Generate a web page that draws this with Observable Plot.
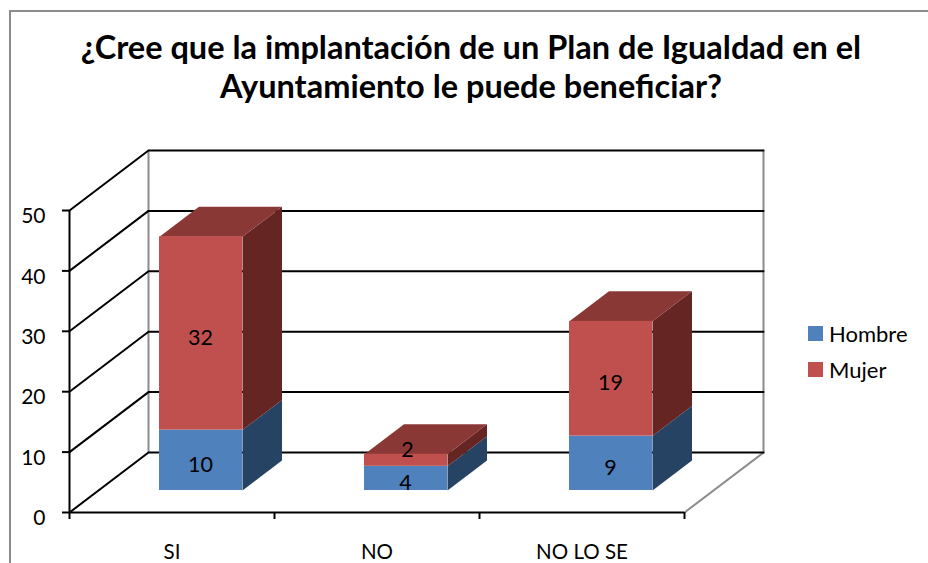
<!DOCTYPE html>
<html lang="es">
<head>
<meta charset="utf-8">
<script src="https://cdn.jsdelivr.net/npm/d3@7"></script>
<script src="https://cdn.jsdelivr.net/npm/@observablehq/plot@0.6"></script>
<style>
  html, body { margin: 0; padding: 0; background: #fff; overflow: hidden; }
  #wrap { position: relative; width: 928px; height: 563px; font-family: Lato, sans-serif; color: #000; }
  #frame { position: absolute; left: 9px; top: 10px; width: 935px; height: 575px; border: 2px solid #8c8c8c; box-sizing: border-box; }
  #title { position: absolute; left: 13px; width: 916px; top: 28px; text-align: center; font-weight: 700; font-size: 32.5px; line-height: 38.5px; }
  #legend { position: absolute; left: 808px; top: 315px; font-size: 22px; }
  .key { display: flex; align-items: center; height: 36px; margin-top: 0; }
  .key i { display: block; width: 15px; height: 15px; margin-right: 6px; }
  svg { position: absolute; left: 0; top: 0; display: block; background: transparent; overflow: visible; }
</style>
</head>
<body>
<div id="wrap">
  <div id="frame"></div>
  <div id="title">¿Cree que la implantación de un Plan de Igualdad en el<br>Ayuntamiento le puede beneficiar?</div>
  <div id="legend"></div>
</div>
<script>
const categories = ["SI", "NO", "NO LO SE"];
const hombre = [10, 4, 9];
const mujer = [32, 2, 19];
const yTicks = [0, 10, 20, 30, 40, 50];
const seriesNames = ["Hombre", "Mujer"];
const seriesColors = ["#4f81bd", "#c0504d"];

// Oblique projection of the chart's depth axis into the x and y scales
const depthX = 79 / 205, depthY = 60 / 6.04;
const px = (x, d) => x + d * depthX;
const py = (y, d) => y + d * depthY;
const barHalf = 41.5 / 205, dFront = 0.367, dBack = 0.867;

// Bar faces, built from the values
const fronts = [], polys = [];
function face(id, kind, pts) {
  for (const [x, y, d] of pts) polys.push({id, kind, x: px(x, d), y: py(y, d)});
}
categories.forEach((c, i) => {
  const cx = i + 0.5, l = cx - barHalf, r = cx + barHalf;
  const h = hombre[i], t = h + mujer[i];
  face(c + "-sh", "Hombre lado", [[r, 0, dFront], [r, 0, dBack], [r, h, dBack], [r, h, dFront]]);
  face(c + "-sm", "Mujer lado", [[r, h, dFront], [r, h, dBack], [r, t, dBack], [r, t, dFront]]);
  face(c + "-tm", "Mujer tapa", [[l, t, dFront], [l, t, dBack], [r, t, dBack], [r, t, dFront]]);
  fronts.push({x1: px(l, dFront), x2: px(r, dFront), y1: py(0, dFront), y2: py(h, dFront), s: "Hombre", v: h, c});
  fronts.push({x1: px(l, dFront), x2: px(r, dFront), y1: py(h, dFront), y2: py(t, dFront), s: "Mujer", v: mujer[i], c});
});

// Walls and floor
const wallBlack = yTicks.flatMap(v => [
  {g: v, x: px(0, 0), y: py(v, 0)},
  {g: v, x: px(0, 1), y: py(v, 1)},
  {g: v, x: px(3, 1), y: py(v, 1)}
]);
const wallGray = [
  {g: "left", x: px(0, 1), y: py(0, 1)}, {g: "left", x: px(0, 1), y: py(50, 1)},
  {g: "right", x: px(3, 1), y: py(0, 1)}, {g: "right", x: px(3, 1), y: py(50, 1)},
  {g: "floor", x: px(3, 0), y: py(0, 0)}, {g: "floor", x: px(3, 1), y: py(0, 1)}
];

const labelStd = fronts.filter(f => f.v > 2);
const labelTop = fronts.filter(f => f.v <= 2);

const chart = Plot.plot({
  width: 928,
  height: 563,
  marginLeft: 69,
  marginRight: 244,
  marginTop: 210,
  marginBottom: 51,
  style: {fontFamily: "Lato, sans-serif", color: "#000", background: "transparent"},
  x: {domain: [0, 3]},
  y: {domain: [0, 50]},
  color: {
    domain: ["Hombre", "Mujer", "Hombre lado", "Mujer lado", "Mujer tapa"],
    range: [...seriesColors, "#264364", "#652523", "#8a3836"]
  },
  marks: [
    Plot.line(wallGray, {x: "x", y: "y", z: "g", stroke: "#8c8c8c", strokeWidth: 2}),
    Plot.line(wallBlack, {x: "x", y: "y", z: "g", stroke: "#000", strokeWidth: 2}),
    Plot.ruleX([0], {y1: 0, y2: 50, stroke: "#000", strokeWidth: 2}),
    Plot.ruleY([0], {x1: 0, x2: 3, stroke: "#000", strokeWidth: 2}),
    Plot.axisY({ticks: yTicks, tickSize: 7, text: null, label: null, strokeWidth: 2, stroke: "#000"}),
    Plot.axisX({ticks: [0, 1, 2, 3], tickSize: 7, text: null, label: null, strokeWidth: 2, stroke: "#000"}),
    Plot.axisY({ticks: yTicks, tickSize: 0, tickPadding: 24, label: null, fontSize: 21, dy: 6, fill: "#000"}),
    Plot.axisX({ticks: [0.5, 1.5, 2.5], tickSize: 0, tickPadding: 32, label: null, fontSize: 20.5, fill: "#000",
      tickFormat: t => categories[Math.floor(t)]}),
    Plot.line(polys, {x: "x", y: "y", z: "id", fill: "kind", stroke: null}),
    Plot.rect(fronts, {x1: "x1", x2: "x2", y1: "y1", y2: "y2", fill: "s"}),
    Plot.text(labelStd, {x: d => (d.x1 + d.x2) / 2, y: d => (d.y1 + d.y2) / 2, text: "v", dy: 4.5, dx: -0.5, fontSize: 21.5, fill: "#000"}),
    Plot.text(labelTop, {x: d => (d.x1 + d.x2) / 2, y: d => (d.y1 + d.y2) / 2, text: "v", dy: -10, dx: 1.5, fontSize: 21.5, fill: "#000"})
  ]
});
document.getElementById("wrap").appendChild(chart);

const legend = document.getElementById("legend");
seriesNames.forEach((n, i) => {
  const k = document.createElement("div");
  k.className = "key";
  const sw = document.createElement("i");
  sw.style.background = seriesColors[i];
  k.appendChild(sw);
  k.appendChild(document.createTextNode(n));
  legend.appendChild(k);
});
</script>
</body>
</html>
